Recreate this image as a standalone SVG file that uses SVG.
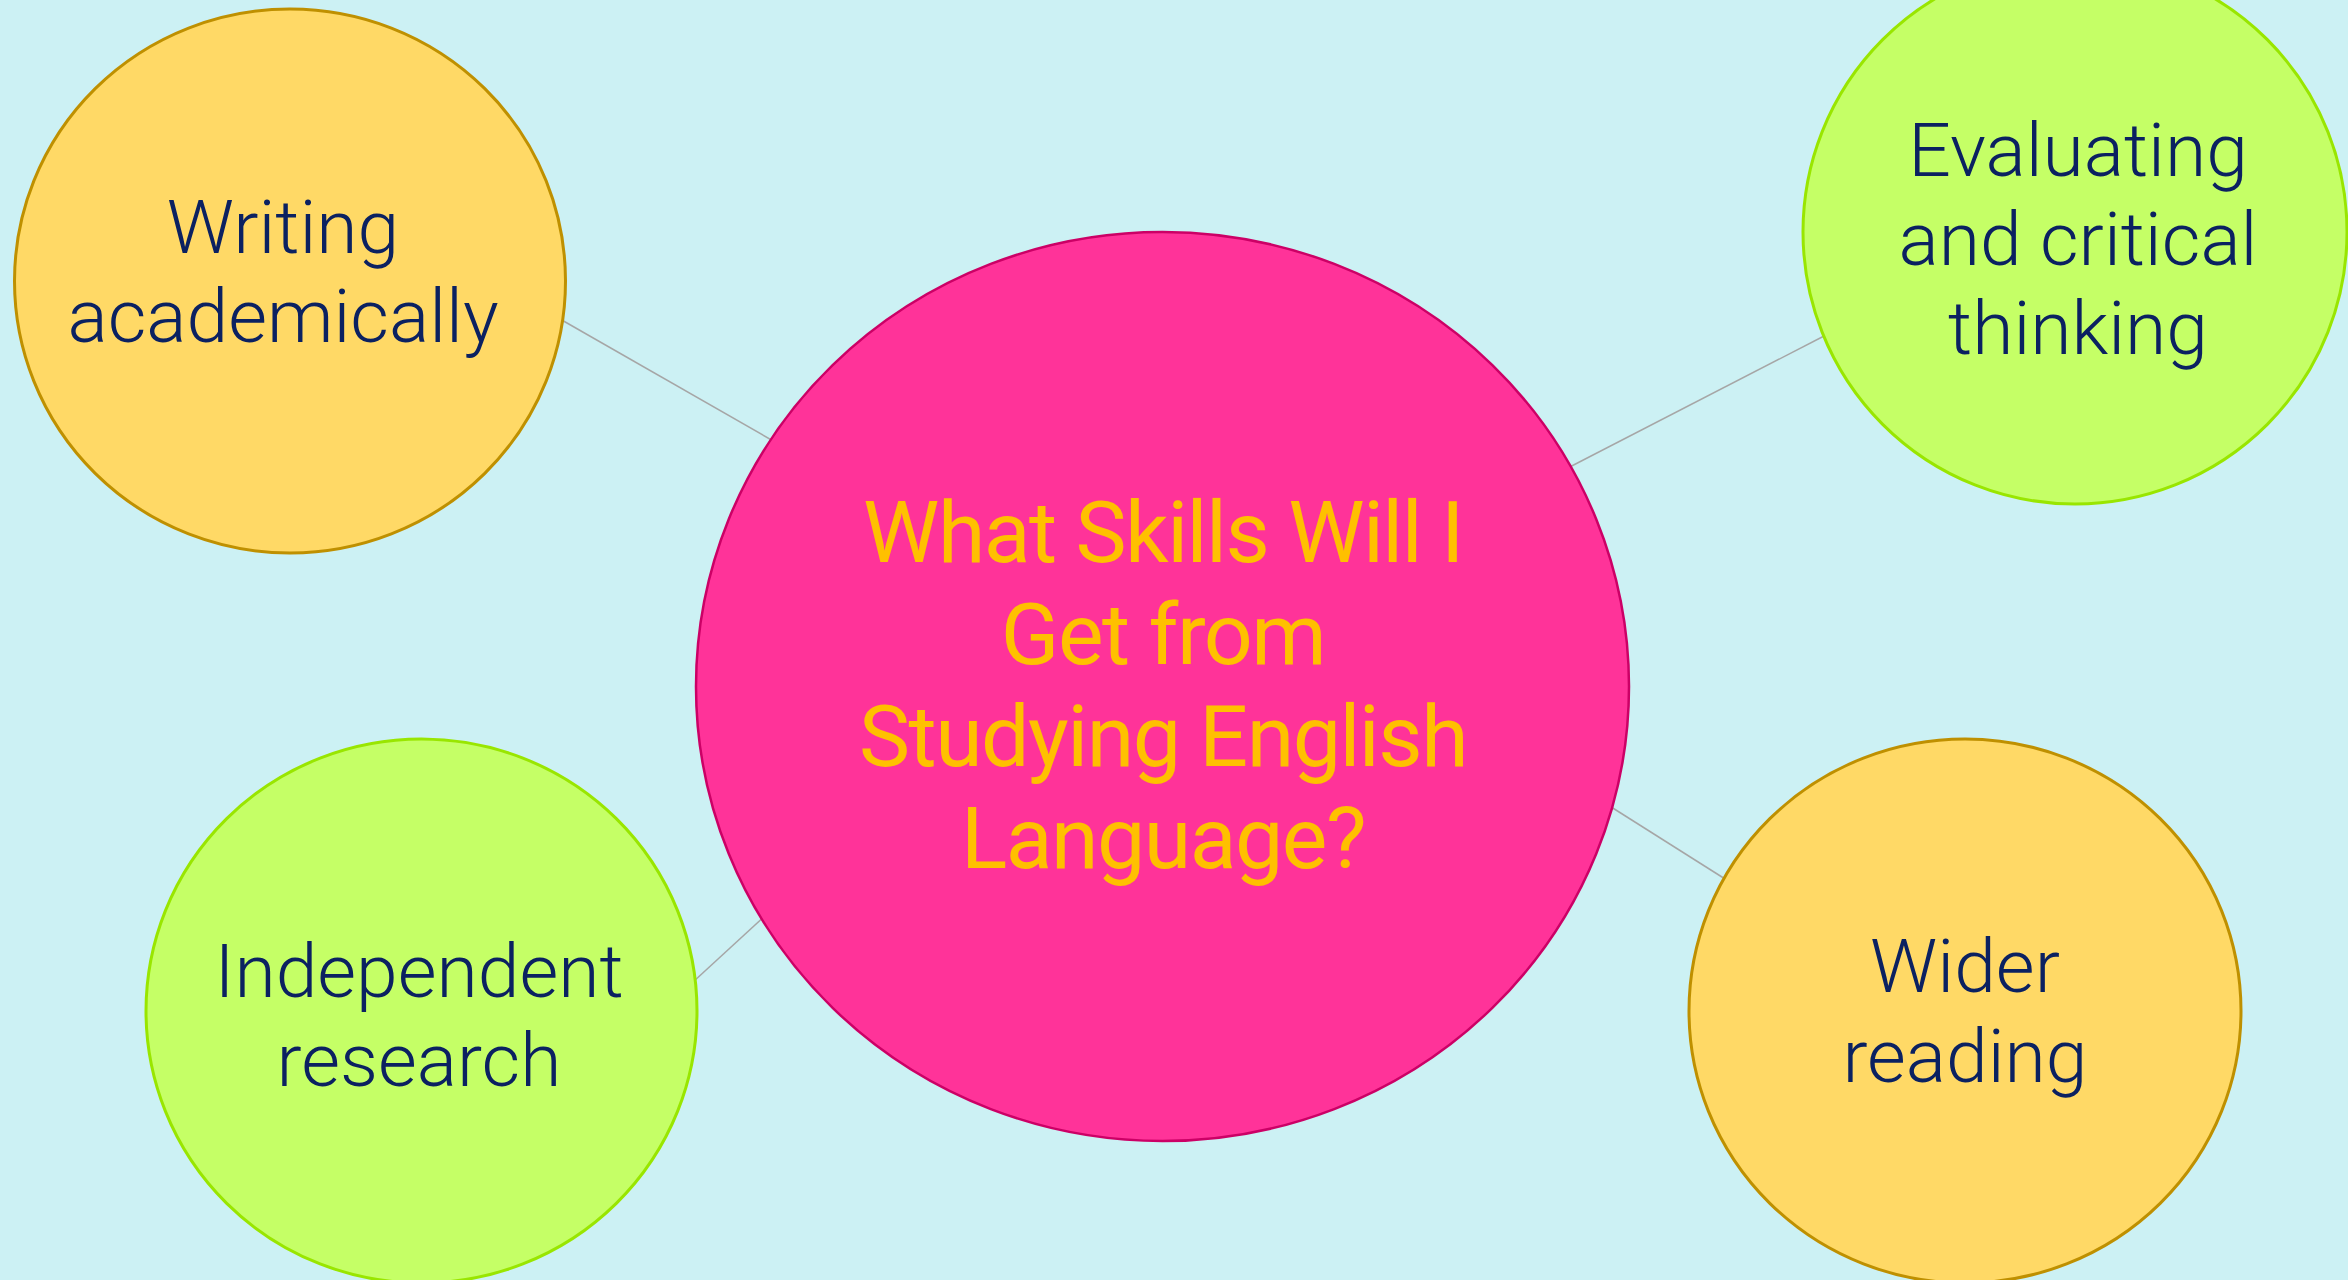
<svg xmlns="http://www.w3.org/2000/svg" width="2348" height="1280" viewBox="0 0 2348 1280">
<style>
.bg{fill:#CCF1F4}
.yel{fill:#FFD966;stroke:#BF9000;stroke-width:3}
.grn{fill:#C5FF66;stroke:#99E600;stroke-width:3}
.ctr{fill:#FF3399;stroke:#CC0066;stroke-width:2.5}
.lbl{font-family:Roboto,"Liberation Sans",sans-serif;font-weight:300;font-size:75px;fill:#0B2161;text-anchor:middle}
.clbl{font-family:Roboto,"Liberation Sans",sans-serif;font-weight:400;font-size:86px;letter-spacing:-1.5px;fill:#FFC000;text-anchor:middle}
.conn{stroke:#A6A6A6;stroke-width:1.5;fill:none}
</style>
<rect class="bg" x="0" y="0" width="2348" height="1280"/>
<g id="connectors">
<line class="conn" x1="560" y1="319" x2="775" y2="442"/>
<line class="conn" x1="1560" y1="472" x2="1826" y2="335"/>
<line class="conn" x1="693" y1="982" x2="767" y2="914"/>
<line class="conn" x1="1608" y1="805" x2="1733" y2="884"/>
</g>
<g id="center">
<ellipse class="ctr" cx="1162.5" cy="686.5" rx="466.5" ry="454.5"/>
<text class="clbl" x="1163" y="562">What Skills Will I</text>
<text class="clbl" x="1163" y="664">Get from</text>
<text class="clbl" x="1163" y="766">Studying English</text>
<text class="clbl" x="1163" y="868">Language?</text>
</g>
<g id="writing">
<ellipse class="yel" cx="290" cy="281" rx="275.5" ry="272"/>
<text class="lbl" x="283" y="253">Writing</text>
<text class="lbl" x="283" y="342">academically</text>
</g>
<g id="evaluating">
<ellipse class="grn" cx="2075" cy="232" rx="272" ry="272"/>
<text class="lbl" x="2078" y="176">Evaluating</text>
<text class="lbl" x="2078" y="265">and critical</text>
<text class="lbl" x="2078" y="354">thinking</text>
</g>
<g id="independent">
<ellipse class="grn" cx="421.5" cy="1011" rx="275.5" ry="272"/>
<text class="lbl" x="419" y="997">Independent</text>
<text class="lbl" x="419" y="1086">research</text>
</g>
<g id="wider">
<ellipse class="yel" cx="1965" cy="1011" rx="276" ry="272"/>
<text class="lbl" x="1965" y="992">Wider</text>
<text class="lbl" x="1965" y="1082">reading</text>
</g>
</svg>
